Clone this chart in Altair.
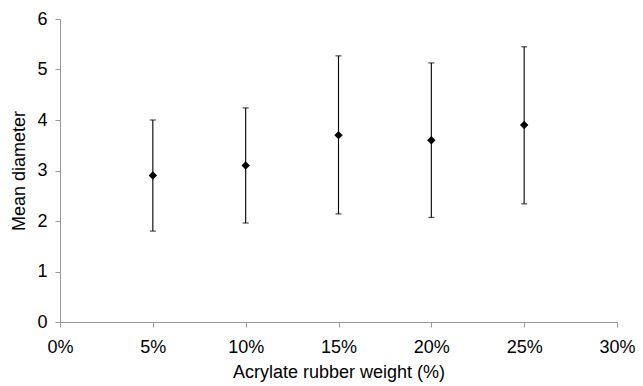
import altair as alt
import pandas as pd

weights = [0.05, 0.10, 0.15, 0.20, 0.25]
means = [2.9, 3.1, 3.7, 3.6, 3.9]
uppers = [4.0, 4.24, 5.27, 5.13, 5.45]
lowers = [1.8, 1.96, 2.14, 2.07, 2.34]

df = pd.DataFrame({"w": weights, "mean": means, "hi": uppers, "lo": lowers})

font = "Liberation Sans"
common = dict(grid=False, domainColor="#999999", tickColor="#999999",
              tickSize=5, labelFontSize=18, titleFontSize=18,
              labelColor="black", titleColor="black", labelFlush=False,
              labelFont=font, titleFont=font, titleFontWeight="normal")

x = alt.X("w:Q", scale=alt.Scale(domain=[0, 0.30], nice=False),
          axis=alt.Axis(title="Acrylate rubber weight (%)", format=".0%",
                        values=[0, 0.05, 0.10, 0.15, 0.20, 0.25, 0.30],
                        labelPadding=11, titlePadding=7, **common))

base = alt.Chart(df)

rules = base.mark_rule(color="black", strokeWidth=1.1).encode(
    x=x,
    y=alt.Y("lo:Q", scale=alt.Scale(domain=[0, 6], nice=False),
            axis=alt.Axis(title="Mean diameter", values=[0, 1, 2, 3, 4, 5, 6],
                          labelPadding=8, titlePadding=8, **common)),
    y2="hi:Q",
)
cap_hi = base.mark_tick(color="black", orient="horizontal", size=6, thickness=1.2).encode(x="w:Q", y="hi:Q")
cap_lo = base.mark_tick(color="black", orient="horizontal", size=6, thickness=1.2).encode(x="w:Q", y="lo:Q")
pts = base.mark_point(shape="diamond", filled=True, color="black", size=70, opacity=1).encode(x="w:Q", y="mean:Q")

chart = alt.layer(rules, cap_hi, cap_lo, pts).properties(
    width=557, height=303,
    autosize=alt.AutoSizeParams(type="none"),
    padding={"left": 52, "top": 11, "right": 18, "bottom": 60},
).configure_view(stroke=None)

chart.save("out.html", embed_options={"renderer": "svg", "actions": False})
